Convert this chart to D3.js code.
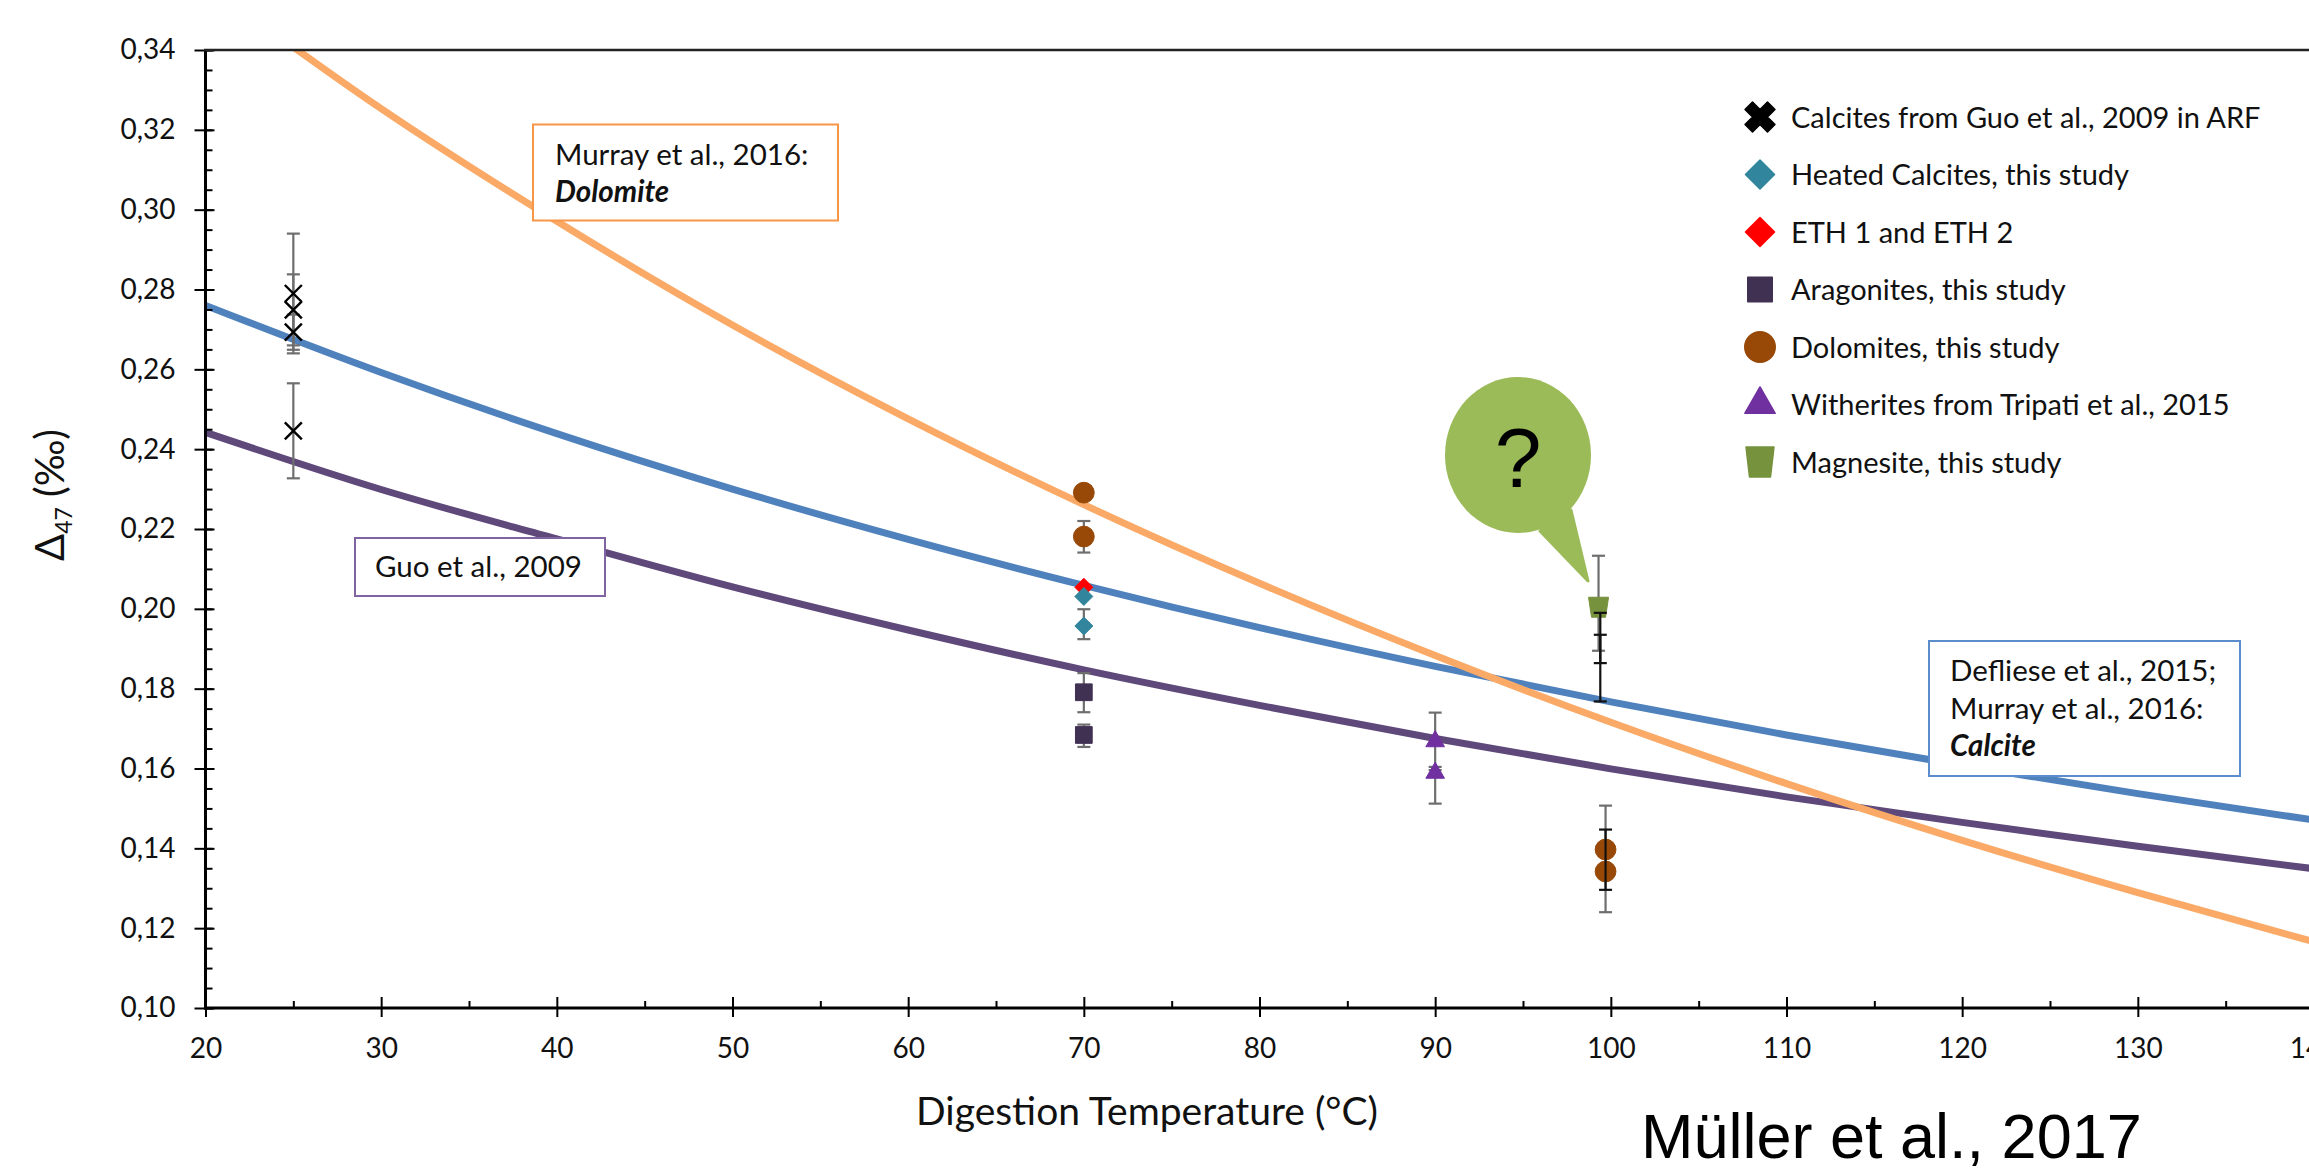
<!DOCTYPE html>
<html><head><meta charset="utf-8">
<script src="https://cdn.jsdelivr.net/npm/d3@7"></script>
<style>body{margin:0;background:#fff;overflow:hidden}svg{display:block}</style>
</head><body>
<svg id="chart" width="2309" height="1170"></svg>
<script>
// ---------- data ----------
const xTickValues = [20,30,40,50,60,70,80,90,100,110,120,130,140];
const yTickValues = [0.10,0.12,0.14,0.16,0.18,0.20,0.22,0.24,0.26,0.28,0.30,0.32,0.34];

// Calibration curves, every 10 °C
const curveTemps      = [20,30,40,50,60,70,80,90,100,110,120,130,140];
const guoCurve        = [0.2442,0.2299,0.2175,0.2055,0.1947,0.1847,0.1758,0.1675,0.1599,0.1529,0.1465,0.1405,0.1349];
const calciteCurve    = [0.2760,0.2592,0.2439,0.2300,0.2174,0.2059,0.1953,0.1856,0.1767,0.1684,0.1608,0.1537,0.1471];
const dolomiteCurve   = [0.3567,0.3253,0.2971,0.2711,0.2476,0.2261,0.2064,0.1883,0.1716,0.1562,0.1420,0.1289,0.1166];

// Measured points
const calcitesGuoT = [25,25,25,25];
const calcitesGuoD = [0.2790,0.2749,0.2693,0.2446];
const ethT = [70];
const ethD = [0.2054];
const heatedT = [70,70];
const heatedD = [0.2031,0.1957];
const aragoniteT = [70,70];
const aragoniteD = [0.1791,0.1684];
const dolomiteT = [70,70,99.7,99.7];
const dolomiteD = [0.2291,0.2181,0.1397,0.1342];
const witheriteT = [90,90];
const witheriteD = [0.1668,0.1589];
const magnesiteT = [99.3];
const magnesiteD = [0.2004];

// Error bars (temperature, low, high)
const greyBarT  = [25,25,25,25,70,70,70,70,90,90,99.3,99.7];
const greyBarLo = [0.2640,0.2660,0.2649,0.2327,0.2141,0.1924,0.1741,0.1654,0.1596,0.1512,0.1895,0.1240];
const greyBarHi = [0.2940,0.2838,0.2737,0.2565,0.2220,0.1999,0.1839,0.1710,0.1740,0.1604,0.2133,0.1507];
const blackBarT  = [99.4,99.4,99.7];
const blackBarLo = [0.1768,0.1864,0.1296];
const blackBarHi = [0.1935,0.1990,0.1447];

const legendLabels = [
  "Calcites from Guo et al., 2009 in ARF",
  "Heated Calcites, this study",
  "ETH 1 and ETH 2",
  "Aragonites, this study",
  "Dolomites, this study",
  "Witherites from Tripati et al., 2015",
  "Magnesite, this study"
];

// ---------- setup ----------
const svg = d3.select("#chart");
const FONT = "Lato, 'Open Sans', 'Noto Sans', sans-serif";
const x = d3.scaleLinear().domain([20,140]).range([205.5,2313.5]);
const y = d3.scaleLinear().domain([0.10,0.34]).range([1008,50]);
const fmt = d => d3.format(".2f")(d).replace(".", ",");

svg.append("defs").append("clipPath").attr("id","plotclip")
  .append("rect").attr("x",x(20)).attr("y",y(0.34)).attr("width",x(140)-x(20)).attr("height",y(0.10)-y(0.34));

// ---------- curves ----------
const line = d3.line().x(d=>x(d[0])).y(d=>y(d[1])).curve(d3.curveMonotoneX);
const curves = [
  {vals: guoCurve, color:"#5F497A"},
  {vals: calciteCurve, color:"#4F81BD"},
  {vals: dolomiteCurve, color:"#FAAA66"}
];
const gCurves = svg.append("g").attr("clip-path","url(#plotclip)");
curves.forEach(c=>{
  gCurves.append("path").datum(curveTemps.map((t,i)=>[t,c.vals[i]]))
    .attr("d", line).attr("fill","none").attr("stroke", c.color).attr("stroke-width",7);
});

// ---------- annotation boxes ----------
function box(x0,y0,w,h,color,lines){
  const g = svg.append("g");
  g.append("rect").attr("x",x0).attr("y",y0).attr("width",w).attr("height",h)
    .attr("fill","#fff").attr("stroke",color).attr("stroke-width",2);
  lines.forEach(l=>{
    g.append("text").attr("x",l.x).attr("y",l.y).text(l.t)
      .attr("font-family",FONT).attr("font-size",29.5).attr("fill","#111")
      .attr("font-weight", l.b?"bold":"normal").attr("font-style", l.b?"italic":"normal");
  });
}
box(533,124.5,305,96,"#F79646",[{x:555,y:165,t:"Murray et al., 2016:"},{x:555,y:202,t:"Dolomite",b:true}]);
box(355,538,250,58,"#8064A2",[{x:375,y:577,t:"Guo et al., 2009"}]);
box(1929,641,311,135,"#5B8CCB",[{x:1950,y:681,t:"Defliese et al., 2015;"},{x:1950,y:719,t:"Murray et al., 2016:"},{x:1950,y:756,t:"Calcite",b:true}]);

// ---------- error bars ----------
function errBars(T,Lo,Hi,color){
  const g = svg.append("g").attr("stroke",color).attr("stroke-width",2.2);
  T.forEach((t,i)=>{
    const cx = x(t);
    g.append("line").attr("x1",cx).attr("x2",cx).attr("y1",y(Lo[i])).attr("y2",y(Hi[i]));
    [Lo[i],Hi[i]].forEach(v=>g.append("line").attr("x1",cx-6.5).attr("x2",cx+6.5).attr("y1",y(v)).attr("y2",y(v)));
  });
}
errBars(greyBarT,greyBarLo,greyBarHi,"#6E6E6E");

// ---------- marker shapes ----------
function trapezoid(wt,wb,h){
  return `M${-wt/2},${-h/2}L${wt/2},${-h/2}L${wb/2},${h/2}L${-wb/2},${h/2}Z`;
}
const shapes = [
  {plot: ()=>d3.symbol(d3.symbolX,190)(), legend: ()=>d3.symbol(d3.symbolCross,560)(), fill:"none", stroke:"#000", sw:2.4, legendRot:45, legendFill:"#000"},
  {plot: ()=>d3.symbol(d3.symbolDiamond2,206)(), legend: ()=>d3.symbol(d3.symbolDiamond2,540)(), fill:"#31859C"},
  {plot: ()=>d3.symbol(d3.symbolDiamond2,206)(), legend: ()=>d3.symbol(d3.symbolDiamond2,540)(), fill:"#FF0000"},
  {plot: ()=>d3.symbol(d3.symbolSquare,280)(), legend: ()=>d3.symbol(d3.symbolSquare,600)(), fill:"#403152"},
  {plot: ()=>d3.symbol(d3.symbolCircle,340)(), legend: ()=>d3.symbol(d3.symbolCircle,730)(), fill:"#984807"},
  {plot: ()=>d3.symbol(d3.symbolTriangle,150)(), legend: ()=>d3.symbol(d3.symbolTriangle,400)(), fill:"#7030A0"},
  {plot: ()=>trapezoid(20,14,20), legend: ()=>trapezoid(28,21,30), fill:"#76923C"}
];
const seriesPts = [
  [calcitesGuoT,calcitesGuoD,0],
  [ethT,ethD,2],
  [heatedT,heatedD,1],
  [aragoniteT,aragoniteD,3],
  [dolomiteT,dolomiteD,4],
  [witheriteT,witheriteD,5],
  [magnesiteT,magnesiteD,6]
];
const gPts = svg.append("g");
seriesPts.forEach(([T,D,si])=>{
  const s = shapes[si];
  gPts.selectAll(null).data(T.map((t,i)=>[t,D[i]])).join("path")
    .attr("transform",d=>`translate(${x(d[0])},${y(d[1])})`)
    .attr("d", s.plot())
    .attr("fill", s.fill)
    .attr("stroke", s.stroke || s.fill)
    .attr("stroke-width", s.sw || 1)
    .attr("stroke-linejoin","round");
});
errBars(blackBarT,blackBarLo,blackBarHi,"#111");

// ---------- speech bubble ----------
const bub = svg.append("g");
bub.append("ellipse").attr("cx",1518).attr("cy",455).attr("rx",73).attr("ry",78).attr("fill","#9BBB59");
bub.append("path").attr("d","M1540,531L1571,510L1588,581Z").attr("fill","#9BBB59").attr("stroke","#9BBB59").attr("stroke-width",3).attr("stroke-linejoin","round");
bub.append("text").attr("x",1518).attr("y",487).attr("text-anchor","middle")
  .attr("font-family","'Liberation Sans', Arial, sans-serif").attr("font-size",84).text("?");

// ---------- legend ----------
const lg = svg.append("g").attr("font-family",FONT).attr("font-size",29);
legendLabels.forEach((lab,i)=>{
  const cy = 117 + i*57.5;
  const s = shapes[i];
  lg.append("path").attr("transform",`translate(1760,${cy})${s.legendRot?` rotate(${s.legendRot})`:""}`)
    .attr("d", s.legend()).attr("fill", s.legendFill || s.fill)
    .attr("stroke", s.legendFill || s.fill).attr("stroke-width",1.5).attr("stroke-linejoin","round");
  lg.append("text").attr("x",1791).attr("y",cy+10.5).attr("fill","#111").text(lab);
});

// ---------- axes ----------
function styleAxis(g){
  g.select(".domain").remove();
  g.selectAll(".tick line").attr("stroke","#000").attr("stroke-width",2);
  g.selectAll("text").attr("font-family",FONT).attr("font-size",28).attr("fill","#111");
}
const yMinor = d3.range(0.10,0.3401,0.005);
const xMinor = d3.range(25,140,10);
svg.append("g").attr("transform",`translate(${x(20)},0)`)
  .call(d3.axisLeft(y).tickValues(yTickValues).tickSize(11).tickPadding(19).tickFormat(fmt)).call(styleAxis);
svg.append("g").attr("transform",`translate(${x(20)},0)`)
  .call(d3.axisRight(y).tickValues(yTickValues).tickSize(9).tickFormat("")).call(styleAxis);
svg.append("g").attr("transform",`translate(${x(20)},0)`)
  .call(d3.axisRight(y).tickValues(yMinor).tickSize(7).tickFormat("")).call(styleAxis);
svg.append("g").attr("transform",`translate(0,${y(0.10)})`)
  .call(d3.axisBottom(x).tickValues(xTickValues).tickSize(9).tickPadding(21).tickFormat(d3.format("d"))).call(styleAxis);
svg.append("g").attr("transform",`translate(0,${y(0.10)})`)
  .call(d3.axisTop(x).tickValues(xTickValues).tickSize(11).tickFormat("")).call(styleAxis);
svg.append("g").attr("transform",`translate(0,${y(0.10)})`)
  .call(d3.axisTop(x).tickValues(xMinor).tickSize(7).tickFormat("")).call(styleAxis);
// axis lines and top border
svg.append("line").attr("x1",x(20)).attr("x2",x(20)).attr("y1",y(0.34)).attr("y2",y(0.10)+1.5).attr("stroke","#000").attr("stroke-width",3);
svg.append("line").attr("x1",x(20)-1.5).attr("x2",x(140)).attr("y1",y(0.10)).attr("y2",y(0.10)).attr("stroke","#000").attr("stroke-width",3);
svg.append("line").attr("x1",x(20)-1.5).attr("x2",x(140)).attr("y1",y(0.34)).attr("y2",y(0.34)).attr("stroke","#222").attr("stroke-width",2.5);

// axis titles
const yt = svg.append("text").attr("transform","translate(64,495) rotate(-90)").attr("text-anchor","middle")
  .attr("font-family",FONT).attr("font-size",40).attr("fill","#111");
yt.append("tspan").text("Δ");
yt.append("tspan").attr("font-size",23).attr("dy",8).text("47");
yt.append("tspan").attr("dy",-8).text(" (‰)");
svg.append("text").attr("x",1147).attr("y",1125).attr("text-anchor","middle")
  .attr("font-family",FONT).attr("font-size",39).attr("fill","#111").text("Digestion Temperature (°C)");
svg.append("text").attr("x",1641).attr("y",1158)
  .attr("font-family","'Liberation Sans', Arial, sans-serif").attr("font-size",63).attr("fill","#000").text("Müller et al., 2017");
</script>
</body></html>
